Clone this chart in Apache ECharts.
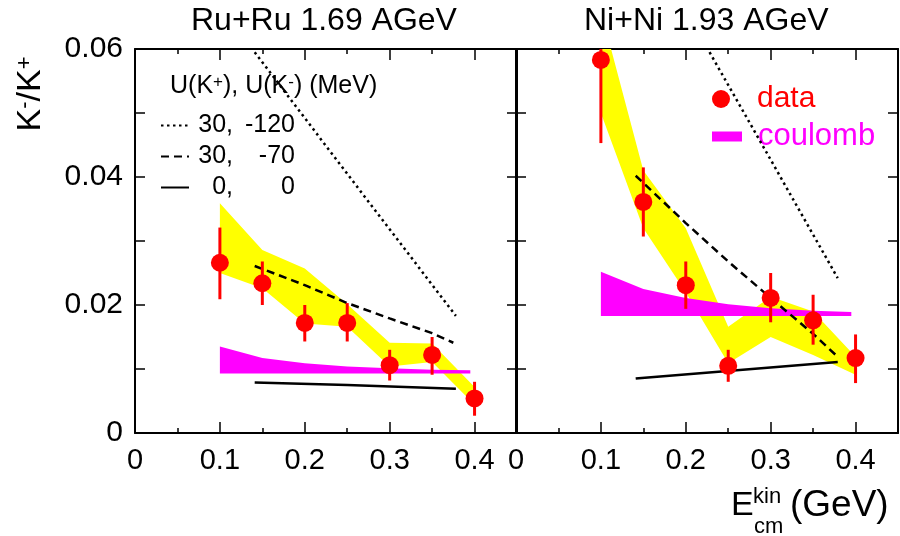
<!DOCTYPE html>
<html>
<head>
<meta charset="utf-8">
<title>K-/K+ ratio vs kinetic energy</title>
<script src="https://cdn.jsdelivr.net/npm/echarts@6/dist/echarts.min.js"></script>
<style>
html, body { margin: 0; padding: 0; background: #fff; }
#main { width: 900px; height: 536px; }
</style>
</head>
<body>
<div id="main"></div>
<script>
// ---- data ----
var energies = [0.1, 0.15, 0.2, 0.25, 0.3, 0.35, 0.4];
var coulombX = [0.1, 0.15, 0.2, 0.25, 0.3, 0.35, 0.395];
var xTickLabels = ['0', '0.1', '0.2', '0.3', '0.4'];
var yTickLabels = ['0', '0.02', '0.04', '0.06'];

// Ru+Ru 1.69 AGeV
var ruRatio    = [0.0266, 0.0234, 0.0172, 0.0172, 0.0106, 0.0122, 0.0054];
var ruErrLow   = [0.0209, 0.0200, 0.0143, 0.0143, 0.0082, 0.0091, 0.0027];
var ruErrHigh  = [0.0321, 0.0268, 0.0200, 0.0203, 0.0130, 0.0150, 0.0080];
var ruBandLow  = [0.0250, 0.0226, 0.0171, 0.0166, 0.0104, 0.0111, 0.0044];
var ruBandHigh = [0.0359, 0.0286, 0.0257, 0.0201, 0.0141, 0.0140, 0.0072];
var ruCoulLow  = [0.0093, 0.0093, 0.0093, 0.0093, 0.0093, 0.0093, 0.0093];
var ruCoulHigh = [0.0135, 0.0117, 0.0109, 0.0104, 0.0101, 0.0099, 0.0098];
var ruDottedX  = [0.141, 0.25, 0.378];
var ruDottedY  = [0.0595, 0.0405, 0.0183];
var ruDashedX  = [0.141, 0.2, 0.25, 0.3, 0.35, 0.375];
var ruDashedY  = [0.0261, 0.0231, 0.0203, 0.0179, 0.0156, 0.0141];
var ruSolidX   = [0.141, 0.25, 0.378];
var ruSolidY   = [0.0079, 0.0075, 0.0069];

// Ni+Ni 1.93 AGeV
var niRatio    = [0.0583, 0.0361, 0.0231, 0.0105, 0.0211, 0.0176, 0.0117];
var niErrLow   = [0.0453, 0.0307, 0.0194, 0.0080, 0.0173, 0.0138, 0.0078];
var niErrHigh  = [0.0713, 0.0415, 0.0268, 0.0130, 0.0250, 0.0216, 0.0154];
var niBandLow  = [0.0500, 0.0320, 0.0220, 0.0109, 0.0150, 0.0122, 0.0091];
var niBandHigh = [0.0660, 0.0410, 0.0320, 0.0166, 0.0213, 0.0190, 0.0119];
var niCoulLow  = [0.0183, 0.0183, 0.0183, 0.0183, 0.0183, 0.0183, 0.0183];
var niCoulHigh = [0.0252, 0.0225, 0.0211, 0.0201, 0.0195, 0.0191, 0.0189];
var niDottedX  = [0.228, 0.3, 0.379];
var niDottedY  = [0.0595, 0.0427, 0.0242];
var niDashedX  = [0.141, 0.2, 0.25, 0.3, 0.35, 0.379];
var niDashedY  = [0.0402, 0.0328, 0.0268, 0.0211, 0.0155, 0.0119];
var niSolidX   = [0.141, 0.379];
var niSolidY   = [0.0085, 0.0111];

var FONT = 'Liberation Sans, Arial, sans-serif';

function zip(xs, ys) {
    return xs.map(function (x, i) { return [x, ys[i]]; });
}

// filled band between lo and hi, drawn as one polygon
function band(grid, xs, lo, hi, color, z, name) {
    return {
        type: 'custom', name: name, xAxisIndex: grid * 2, yAxisIndex: grid * 2,
        clip: true, z: z, silent: true,
        itemStyle: { color: color },
        encode: { x: 0, y: [1, 2] },
        data: xs.map(function (x, i) { return [x, lo[i], hi[i]]; }),
        renderItem: function (params, api) {
            if (params.dataIndex !== 0) return;
            var top = [], bottom = [];
            for (var i = 0; i < xs.length; i++) {
                top.push(api.coord([xs[i], hi[i]]));
                bottom.unshift(api.coord([xs[i], lo[i]]));
            }
            return { type: 'polygon', shape: { points: top.concat(bottom) }, style: { fill: color } };
        }
    };
}

function errorBars(grid, lo, hi) {
    return {
        type: 'custom', xAxisIndex: grid * 2, yAxisIndex: grid * 2, clip: true, z: 5, silent: true,
        encode: { x: 0, y: [1, 2] },
        data: energies.map(function (x, i) { return [x, lo[i], hi[i]]; }),
        renderItem: function (params, api) {
            var p1 = api.coord([api.value(0), api.value(1)]);
            var p2 = api.coord([api.value(0), api.value(2)]);
            return { type: 'line', shape: { x1: p1[0], y1: p1[1], x2: p2[0], y2: p2[1] },
                     style: { stroke: '#ff0000', lineWidth: 3 } };
        }
    };
}

function theory(grid, name, xs, ys, type, width) {
    return {
        type: 'line', name: name, xAxisIndex: grid * 2, yAxisIndex: grid * 2,
        data: zip(xs, ys), symbol: 'none', clip: true, z: 4,
        itemStyle: { color: '#000' },
        lineStyle: { color: '#000', width: width, type: type }
    };
}

function points(grid, ys) {
    return {
        type: 'scatter', name: 'data', xAxisIndex: grid * 2, yAxisIndex: grid * 2,
        data: zip(energies, ys), symbol: 'circle', symbolSize: 18, z: 6,
        itemStyle: { color: '#ff0000', opacity: 1 }
    };
}

function pickLabel(list, v) {
    for (var i = 0; i < list.length; i++) {
        if (Math.abs(parseFloat(list[i]) - v) < 1e-9) return list[i];
    }
    return '';
}

var axisLine = { show: true, onZero: false, lineStyle: { color: '#000', width: 2 } };
var tickStyle = { color: '#000', width: 1.5 };

function xAxis(grid, pos, showLabel) {
    return {
        type: 'value', gridIndex: grid, position: pos, min: 0, max: 0.45, interval: 0.1,
        axisLine: axisLine,
        axisTick: { show: true, inside: true, length: 11, lineStyle: tickStyle },
        minorTick: { show: true, splitNumber: 2, length: 5, lineStyle: tickStyle },
        splitLine: { show: false },
        axisLabel: {
            show: showLabel, margin: 13, fontSize: 29, color: '#000', fontFamily: FONT,
            showMaxLabel: false,
            formatter: function (v) { return pickLabel(xTickLabels, v); }
        }
    };
}

function yAxis(grid, pos, showLabel) {
    return {
        type: 'value', gridIndex: grid, position: pos, min: 0, max: 0.06, interval: 0.01,
        axisLine: axisLine,
        axisTick: { show: true, inside: true, length: 10, lineStyle: tickStyle },
        splitLine: { show: false },
        axisLabel: {
            show: showLabel, margin: 12, fontSize: 30, color: '#000', fontFamily: FONT,
            formatter: function (v) { return pickLabel(yTickLabels, v); }
        }
    };
}

var myChart = echarts.init(document.getElementById('main'), null, { renderer: 'canvas' });

var option = {
    animation: false,
    backgroundColor: '#fff',
    textStyle: { fontFamily: FONT },
    title: [
        { text: 'Ru+Ru 1.69 AGeV', left: 191, top: 5, padding: 0,
          textStyle: { fontSize: 32, fontWeight: 'normal', color: '#000', fontFamily: FONT } },
        { text: 'Ni+Ni 1.93 AGeV', left: 584, top: 5, padding: 0,
          textStyle: { fontSize: 32, fontWeight: 'normal', color: '#000', fontFamily: FONT } }
    ],
    grid: [
        { left: 135, top: 49, width: 382, height: 384 },
        { left: 516, top: 49, width: 382, height: 384 }
    ],
    xAxis: [xAxis(0, 'bottom', true), xAxis(0, 'top', false), xAxis(1, 'bottom', true), xAxis(1, 'top', false)],
    yAxis: [yAxis(0, 'left', true), yAxis(0, 'right', false), yAxis(1, 'left', false), yAxis(1, 'right', false)],
    legend: [
        {
            data: ['30, -120', '30, -70', '0, 0'], orient: 'vertical', left: 160, top: 113,
            padding: 0, itemGap: 6, itemWidth: 28, itemHeight: 14,
            itemStyle: { opacity: 0 },
            textStyle: {
                fontSize: 25, color: '#000', lineHeight: 25,
                rich: {
                    a: { fontSize: 25, width: 39, align: 'right', color: '#000', fontFamily: FONT },
                    b: { fontSize: 25, width: 62, align: 'right', color: '#000', fontFamily: FONT }
                }
            },
            formatter: function (name) {
                var p = name.split(', ');
                return '{a|' + p[0] + ',}{b|' + p[1] + '}';
            }
        },
        {
            data: [{ name: 'data', icon: 'circle' }], left: 712, top: 84, padding: 0,
            itemWidth: 30, itemHeight: 18,
            textStyle: { fontSize: 30, color: '#ff0000',
                rich: {
                    g: { width: 16, fontSize: 30 },
                    t: { fontSize: 30, color: '#ff0000', fontFamily: FONT }
                } },
            formatter: function (n) { return '{g|}{t|' + n + '}'; }
        },
        {
            data: [{ name: 'coulomb', icon: 'rect', itemStyle: { color: '#ff00ff' } }],
            left: 712, top: 121, padding: 0, itemWidth: 30, itemHeight: 10,
            textStyle: { fontSize: 31, color: '#ff00ff',
                rich: {
                    g: { width: 11, fontSize: 31 },
                    t: { fontSize: 31, color: '#ff00ff', fontFamily: FONT }
                } },
            formatter: function (n) { return '{g|}{t|' + n + '}'; }
        }
    ],
    graphic: [
        {   // y axis title
            type: 'text', x: 31, y: 94, rotation: Math.PI / 2,
            style: {
                text: '{k|K}{s|-}{k|/K}{s|+}', align: 'center', verticalAlign: 'middle',
                rich: {
                    k: { fontSize: 34, fill: '#000', fontFamily: FONT },
                    s: { fontSize: 22, fill: '#000', fontFamily: FONT, verticalAlign: 'top' }
                }
            }
        },
        {   // legend header
            type: 'text', x: 170, y: 86,
            style: {
                text: '{a|U(K}{s|+}{a|), U(K}{s|-}{a|) (MeV)}', verticalAlign: 'middle',
                rich: {
                    a: { fontSize: 25, fill: '#000', fontFamily: FONT },
                    s: { fontSize: 17, fill: '#000', fontFamily: FONT, verticalAlign: 'top' }
                }
            }
        },
        // x axis title: E_cm^kin (GeV)
        { type: 'text', x: 731, y: 506, style: { text: 'E', fontSize: 34, fill: '#000', fontFamily: FONT, verticalAlign: 'middle' } },
        { type: 'text', x: 753, y: 497, style: { text: 'kin', fontSize: 22, fill: '#000', fontFamily: FONT, verticalAlign: 'middle' } },
        { type: 'text', x: 754, y: 527, style: { text: 'cm', fontSize: 22, fill: '#000', fontFamily: FONT, verticalAlign: 'middle' } },
        { type: 'text', x: 790, y: 506, style: { text: '(GeV)', fontSize: 37, fill: '#000', fontFamily: FONT, verticalAlign: 'middle' } }
    ],
    series: [
        band(0, energies, ruBandLow, ruBandHigh, '#ffff00', 1, 'band'),
        band(1, energies, niBandLow, niBandHigh, '#ffff00', 1, 'band'),
        band(0, coulombX, ruCoulLow, ruCoulHigh, '#ff00ff', 2, 'coulomb'),
        band(1, coulombX, niCoulLow, niCoulHigh, '#ff00ff', 2, 'coulomb'),
        theory(0, '30, -120', ruDottedX, ruDottedY, [2.5, 3.5], 2.5),
        theory(0, '30, -70', ruDashedX, ruDashedY, [8, 5], 2.5),
        theory(0, '0, 0', ruSolidX, ruSolidY, 'solid', 2.5),
        theory(1, '30, -120', niDottedX, niDottedY, [2.5, 3.5], 2.5),
        theory(1, '30, -70', niDashedX, niDashedY, [8, 5], 2.5),
        theory(1, '0, 0', niSolidX, niSolidY, 'solid', 2.5),
        errorBars(0, ruErrLow, ruErrHigh),
        errorBars(1, niErrLow, niErrHigh),
        points(0, ruRatio),
        points(1, niRatio)
    ]
};

myChart.setOption(option);
</script>
</body>
</html>
